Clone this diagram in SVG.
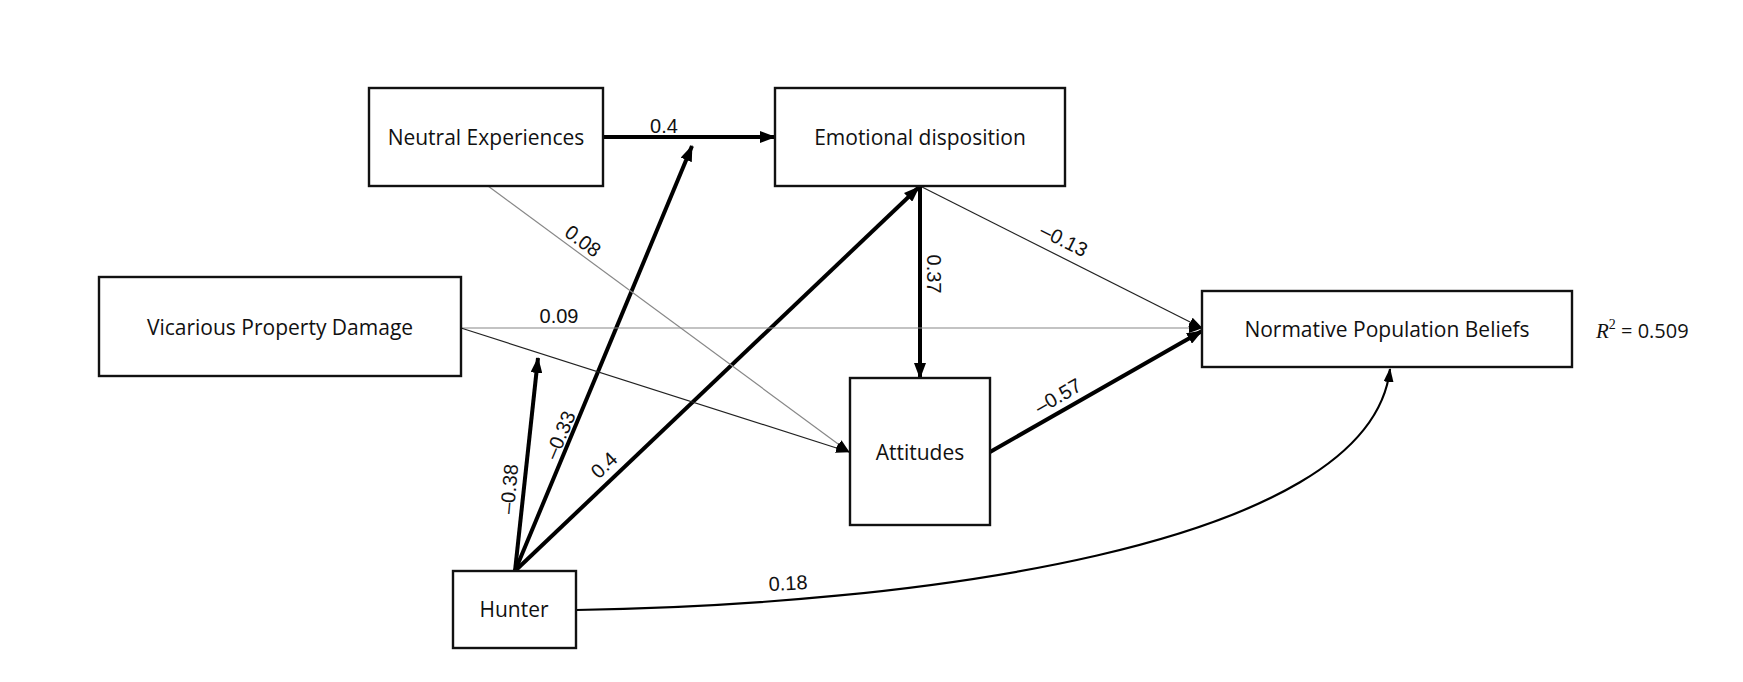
<svg xmlns="http://www.w3.org/2000/svg" width="1743" height="682" viewBox="0 0 1743 682">
<defs>
<style>
.box{fill:#fff;stroke:#111;stroke-width:2.4}
.nt{font-family:"Open Sans","Noto Sans",sans-serif;font-size:21px;fill:#111;text-anchor:middle;dominant-baseline:central}
.lb{font-family:"Liberation Sans",Arial,sans-serif;font-size:20px;fill:#111;text-anchor:middle;dominant-baseline:central}
.thick{fill:none;stroke:#000;stroke-width:4}
.thin{fill:none;stroke:#222;stroke-width:1.2}
.gray{fill:none;stroke:#888;stroke-width:1.2}
.mid{fill:none;stroke:#000;stroke-width:2.2}
</style>
<marker id="ah" markerUnits="userSpaceOnUse" markerWidth="16" markerHeight="12" refX="15" refY="6" orient="auto"><path d="M0,0 L16,6 L0,12 z" fill="#000"/></marker>
<marker id="as" markerUnits="userSpaceOnUse" markerWidth="14" markerHeight="10" refX="13" refY="5" orient="auto"><path d="M0,0 L14,5 L0,10 z" fill="#000"/></marker>
</defs>
<rect width="1743" height="682" fill="#fff"/>
<g id="connectors">
<path class="thick" d="M603,137 L775,137" marker-end="url(#ah)"/>
<path class="thick" d="M515,571 L538,358" marker-end="url(#ah)"/>
<path class="thick" d="M515,571 L692,146" marker-end="url(#ah)"/>
<path class="thick" d="M515,571 L919,187" marker-end="url(#ah)"/>
<path class="thick" d="M920,186 L920,378" marker-end="url(#ah)"/>
<path class="thin" d="M922,187 L1202,328" marker-end="url(#as)"/>
<path class="gray" d="M461,328 L1202,328" marker-end="url(#as)"/>
<path class="gray" d="M488,186 L849,452" marker-end="url(#as)"/>
<path class="thin" d="M461,328 L849,452" marker-end="url(#as)"/>
<path class="thick" d="M990,452 L1202,331" marker-end="url(#ah)"/>
<path class="mid" d="M576,610 C900,605 1370,550 1390,369" marker-end="url(#as)"/>
</g>
<g id="labels">
<text class="lb" x="664" y="126">0.4</text>
<text class="lb" transform="translate(583,241) rotate(36.5)">0.08</text>
<text class="lb" x="559" y="316">0.09</text>
<text class="lb" transform="translate(1064,240) rotate(26.7)">–0.13</text>
<text class="lb" transform="translate(934,274) rotate(90)">0.37</text>
<text class="lb" transform="translate(1058,396) rotate(-30)">–0.57</text>
<text class="lb" transform="translate(509,489) rotate(-85)">–0.38</text>
<text class="lb" transform="translate(560,435) rotate(-67)">–0.33</text>
<text class="lb" transform="translate(604,465) rotate(-43.6)">0.4</text>
<text class="lb" transform="translate(788,583) rotate(-3)">0.18</text>
</g>
<g id="neutral"><rect class="box" x="369" y="88" width="234" height="98"/><text class="nt" x="486" y="137">Neutral Experiences</text></g>
<g id="emotional"><rect class="box" x="775" y="88" width="290" height="98"/><text class="nt" x="920" y="137">Emotional disposition</text></g>
<g id="vicarious"><rect class="box" x="99" y="277" width="362" height="99"/><text class="nt" x="280" y="327">Vicarious Property Damage</text></g>
<g id="attitudes"><rect class="box" x="850" y="378" width="140" height="147"/><text class="nt" x="920" y="452">Attitudes</text></g>
<g id="normative"><rect class="box" x="1202" y="291" width="370" height="76"/><text class="nt" x="1387" y="329">Normative Population Beliefs</text></g>
<g id="hunter"><rect class="box" x="453" y="571" width="123" height="77"/><text class="nt" x="514" y="609">Hunter</text></g>
<g id="r2"><text x="1596" y="338" font-family="Liberation Serif,serif" font-style="italic" font-size="21" fill="#111">R<tspan font-style="normal" font-size="14" dy="-9">2</tspan><tspan font-family="Open Sans,sans-serif" font-style="normal" font-size="20" dy="9"> = 0.509</tspan></text></g>
</svg>
